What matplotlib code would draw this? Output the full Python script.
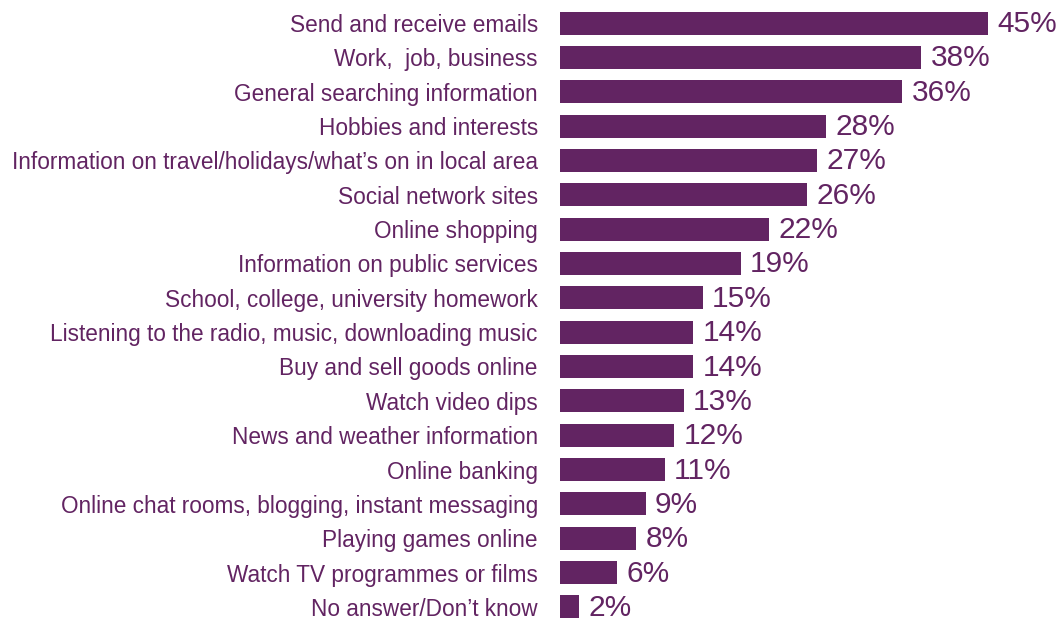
import matplotlib.pyplot as plt

# Kategorien und Werte (in Prozent), von oben nach unten
categories = [
    "Send and receive emails",
    "Work,  job, business",
    "General searching information",
    "Hobbies and interests",
    "Information on travel/holidays/what\u2019s on in local area",
    "Social network sites",
    "Online shopping",
    "Information on public services",
    "School, college, university homework",
    "Listening to the radio, music, downloading music",
    "Buy and sell goods online",
    "Watch video dips",
    "News and weather information",
    "Online banking",
    "Online chat rooms, blogging, instant messaging",
    "Playing games online",
    "Watch TV programmes or films",
    "No answer/Don\u2019t know",
]
values = [45, 38, 36, 28, 27, 26, 22, 19, 15, 14, 14, 13, 12, 11, 9, 8, 6, 2]

purple = "#622462"

plt.rcParams['font.family'] = ['Liberation Sans', 'DejaVu Sans']

fig = plt.figure(figsize=(10.61, 6.21), dpi=100)
ax = fig.add_axes([560 / 1061, 0, 501 / 1061, 1])

pos = list(range(len(values)))
ax.barh(pos, values, height=0.67, color=purple)

# Prozentwerte rechts neben den Balken
for y, v in zip(pos, values):
    ax.text(v + 1.0, y + 0.03, f"{v}%", va="center", ha="left",
            fontsize=21.5, color=purple)

ax.set_xlim(0, 501 / 9.51)
ax.set_ylim(17.41, -0.67)
ax.set_yticks(pos)
ax.set_yticklabels(categories, fontsize=16.3, color=purple)
ax.tick_params(axis="y", length=0, pad=16)
ax.set_xticks([])
for s in ax.spines.values():
    s.set_visible(False)

fig.savefig("out.png", dpi=100)
